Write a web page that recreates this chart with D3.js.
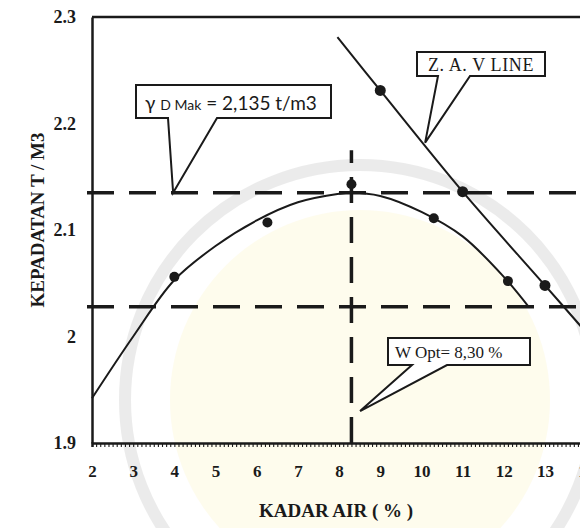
<!DOCTYPE html>
<html>
<head>
<meta charset="utf-8">
<script src="https://cdn.jsdelivr.net/npm/d3@7"></script>
<style>
  html, body { margin: 0; padding: 0; background: #fff; }
  svg { display: block; }
</style>
</head>
<body>
<svg id="chart" width="580" height="528"></svg>
<script>
// Proctor compaction test: dry density against moisture content

// axis ticks
const xTicks = [2, 3, 4, 5, 6, 7, 8, 9, 10, 11, 12, 13, 14];
const yTicks = [1.9, 2.0, 2.1, 2.2, 2.3];
const yTickLabels = ["1.9", "2", "2.1", "2.2", "2.3"];

// measured points
const moisture = [4.0, 6.26, 8.3, 10.3, 12.1];
const dryDensity = [2.056, 2.107, 2.143, 2.111, 2.052];

// fitted compaction curve
const fitMoisture = [2, 3, 4, 5, 6, 7, 8, 8.3, 9, 10, 11, 12, 12.6];
const fitDensity = [1.942, 2.000, 2.053, 2.085, 2.109, 2.126, 2.134, 2.135, 2.132, 2.117, 2.094, 2.056, 2.028];

// zero air voids points and line
const zavMoisture = [9, 11, 13];
const zavDensity = [2.231, 2.136, 2.048];
const zavLineMoisture = [7.96, 9, 11, 13, 14.2];
const zavLineDensity = [2.281, 2.231, 2.136, 2.048, 1.995];

// results
const maxDryDensity = 2.135;
const optMoisture = 8.30;
const densityLimit = 2.028;

const svg = d3.select("#chart");
const W = 580, H = 528;

const x = d3.scaleLinear().domain([2, 14.2]).range([92, 594.4]);
const y = d3.scaleLinear().domain([1.9, 2.3]).range([443, 17]);

// faint background emblem
const bg = svg.append("g").attr("opacity", 0.4);
bg.append("circle").attr("cx", 360).attr("cy", 400).attr("r", 190)
  .attr("fill", "#fbf3b8").attr("opacity", 0.6);
bg.append("circle").attr("cx", 360).attr("cy", 400).attr("r", 235)
  .attr("fill", "none").attr("stroke", "#cfcfcf").attr("stroke-width", 12);

const ink = "#1a1a1a";
const serif = "'Liberation Serif', 'Times New Roman', serif";

// frame: top border
svg.append("line")
  .attr("x1", x(2)).attr("x2", W + 10)
  .attr("y1", y(2.3)).attr("y2", y(2.3))
  .attr("stroke", ink).attr("stroke-width", 2.5);

// x axis minor ticks (every 0.1)
const minor = d3.range(20, 143).map(d => d / 10);
svg.append("g")
  .attr("transform", `translate(0,${y(1.9)})`)
  .call(d3.axisBottom(x).tickValues(minor).tickSize(4).tickFormat(""))
  .call(g => g.select(".domain").attr("stroke", ink).attr("stroke-width", 2.5))
  .call(g => g.selectAll(".tick line").attr("stroke", ink).attr("stroke-width", 1.1));

// x labels
svg.append("g")
  .attr("transform", `translate(0,${y(1.9)})`)
  .call(d3.axisBottom(x).tickValues(xTicks).tickSize(0).tickPadding(22).tickFormat(d3.format("d")))
  .call(g => g.select(".domain").remove())
  .call(g => g.selectAll("text")
    .attr("font-family", serif).attr("font-weight", "bold")
    .attr("font-size", 17).attr("fill", ink));

// y axis
svg.append("g")
  .attr("transform", `translate(${x(2)},0)`)
  .call(d3.axisLeft(y).tickValues(yTicks).tickSize(0).tickPadding(16)
    .tickFormat((d, i) => yTickLabels[i]))
  .call(g => g.select(".domain").attr("stroke", ink).attr("stroke-width", 2.5))
  .call(g => g.selectAll("text")
    .attr("font-family", serif).attr("font-weight", "bold")
    .attr("font-size", 18).attr("fill", ink));

// axis titles
svg.append("text")
  .attr("x", 336).attr("y", 517)
  .attr("text-anchor", "middle")
  .attr("font-family", serif).attr("font-weight", "bold").attr("font-size", 19)
  .attr("fill", ink)
  .text("KADAR AIR  ( % )");

svg.append("text")
  .attr("transform", "translate(44,220) rotate(-90)")
  .attr("text-anchor", "middle")
  .attr("font-family", serif).attr("font-weight", "bold").attr("font-size", 19)
  .attr("fill", ink)
  .text("KEPADATAN  T / M3");

// dashed reference lines
const dash = "27,15";
[maxDryDensity, densityLimit].forEach(v => {
  svg.append("line")
    .attr("x1", x(2) - 5).attr("x2", W + 10)
    .attr("y1", y(v)).attr("y2", y(v))
    .attr("stroke", ink).attr("stroke-width", 3.5)
    .attr("stroke-dasharray", dash);
});
svg.append("line")
  .attr("x1", x(optMoisture)).attr("x2", x(optMoisture))
  .attr("y1", y(1.9)).attr("y2", y(2.175))
  .attr("stroke", ink).attr("stroke-width", 3.5)
  .attr("stroke-dasharray", "26,14");

// fitted compaction curve
const fit = fitMoisture.map((m, i) => [m, fitDensity[i]]);
svg.append("path")
  .datum(fit)
  .attr("fill", "none").attr("stroke", ink).attr("stroke-width", 2)
  .attr("d", d3.line().x(d => x(d[0])).y(d => y(d[1])).curve(d3.curveCatmullRom.alpha(0.5)));

// zero air voids line
const zav = zavLineMoisture.map((m, i) => [m, zavLineDensity[i]]);
svg.append("path")
  .datum(zav)
  .attr("fill", "none").attr("stroke", ink).attr("stroke-width", 2)
  .attr("d", d3.line().x(d => x(d[0])).y(d => y(d[1])).curve(d3.curveCatmullRom.alpha(0.5)));

// points
svg.append("g").selectAll("circle")
  .data(moisture.map((m, i) => [m, dryDensity[i]]))
  .join("circle")
  .attr("cx", d => x(d[0])).attr("cy", d => y(d[1])).attr("r", 5)
  .attr("fill", ink);
svg.append("g").selectAll("circle")
  .data(zavMoisture.map((m, i) => [m, zavDensity[i]]))
  .join("circle")
  .attr("cx", d => x(d[0])).attr("cy", d => y(d[1])).attr("r", 5.5)
  .attr("fill", ink);

// callout boxes
function callout(box, attachL, attachR, tip) {
  const [tx, ty] = [x(tip[0]), y(tip[1])];
  const p = `M${box.x0},${box.y0}H${box.x1}V${box.y1}H${attachR}L${tx},${ty}L${attachL},${box.y1}H${box.x0}Z`;
  svg.append("path").attr("d", p)
    .attr("fill", "#fff").attr("stroke", ink).attr("stroke-width", 2)
    .attr("stroke-linejoin", "miter");
}

// maximum dry density
callout({ x0: 136, y0: 85, x1: 331, y1: 118 }, 168, 217, [3.97, maxDryDensity]);
const g1 = svg.append("text")
  .attr("x", 145).attr("y", 110)
  .attr("font-family", "Lato, 'Open Sans', sans-serif")
  .attr("fill", ink);
g1.append("tspan").attr("font-size", 19).text("γ ");
g1.append("tspan").attr("font-size", 14).text("D Mak");
g1.append("tspan").attr("font-size", 19).text(" = 2,135 t/m3");

// zero air voids label
callout({ x0: 417, y0: 52, x1: 545, y1: 76 }, 438, 470, [10.09, 2.182]);
svg.append("text")
  .attr("x", 481).attr("y", 71)
  .attr("text-anchor", "middle")
  .attr("font-family", serif).attr("font-size", 18)
  .attr("letter-spacing", 0.6)
  .attr("fill", ink)
  .text("Z. A. V  LINE");

// optimum moisture content
callout({ x0: 388, y0: 338, x1: 530, y1: 365 }, 412, 447, [8.51, 1.930]);
svg.append("text")
  .attr("x", 395).attr("y", 358)
  .attr("font-family", serif).attr("font-size", 17)
  .attr("fill", ink)
  .text("W Opt= 8,30  %");
</script>
</body>
</html>
